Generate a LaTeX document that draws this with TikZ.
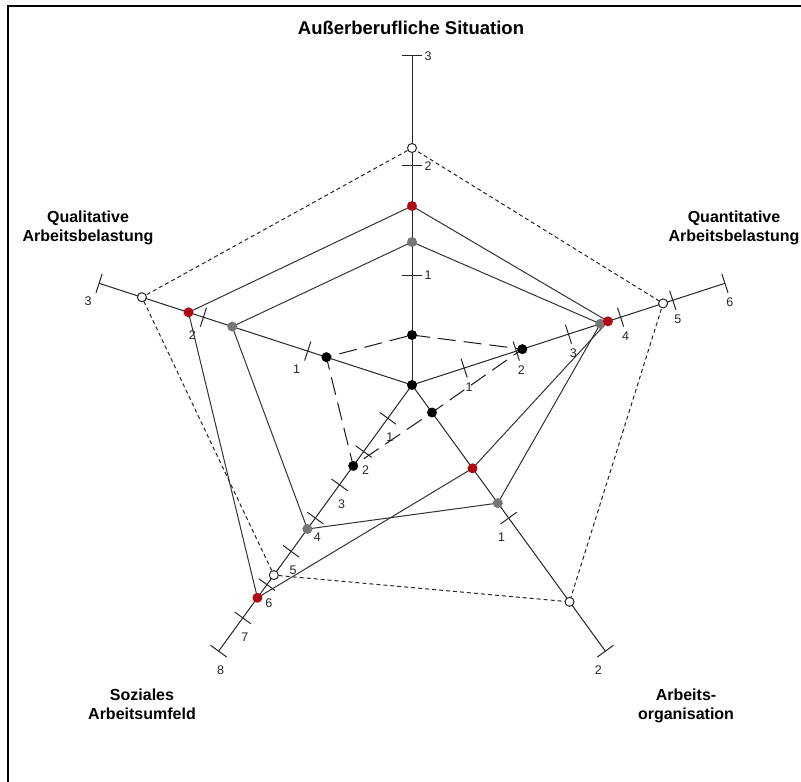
\documentclass[tikz,border=0pt]{standalone}
\usepackage{fontspec}
\setmainfont{Liberation Sans}
\usetikzlibrary{calc}
\definecolor{dotred}{RGB}{175,10,20}
\definecolor{dotgray}{RGB}{118,118,118}
\begin{document}
\begin{tikzpicture}[x=1pt,y=1pt,
  frameline/.style={line width=1.5pt, black},
  axisline/.style={line width=1pt, black!85},
  tickmark/.style={line width=1pt, black!85},
  ticklabel/.style={font=\fontsize{12.5}{14}\selectfont, text=black!85, inner sep=0pt},
  catlabel/.style={font=\fontsize{16}{19.5}\selectfont\bfseries, align=center, inner sep=0pt},
  titlelabel/.style={font=\fontsize{18.5}{20}\selectfont\bfseries, inner sep=0pt},
  polyline/.style={line width=1pt, black!80},
  maxline/.style={line width=1pt, black!85, dash pattern=on 4pt off 3pt},
  blackline/.style={line width=1pt, black!90, dash pattern=on 18pt off 8pt},
  reddot/.style={circle, fill=dotred, inner sep=0pt, minimum size=10pt},
  graydot/.style={circle, fill=dotgray, inner sep=0pt, minimum size=10pt},
  blackdot/.style={circle, fill=black, inner sep=0pt, minimum size=10pt},
  opendot/.style={circle, draw=black!85, line width=1pt, fill=white, inner sep=0pt, minimum size=9pt}
]
\useasboundingbox (0,0) rectangle (801,782);
\fill[white] (0,0) rectangle (801,782);
\draw[frameline] (8,0) -- (8,776) -- (801,776);

\coordinate (C) at (412,397);

% axes, ticks, tick labels
\foreach \nm/\ang/\mx/\dx/\dy in {T/90/3/16/0, R/18/6/5/-19, BR/-54/2/-7/-19, BL/-126/8/2/-19, L/162/3/-11/-18}{
  \coordinate (\nm end) at ($(C)+(\ang:329)$);
  \draw[axisline] (C) -- (\nm end);
  \foreach \k in {1,...,\mx}{
    \coordinate (\nm\k) at ($(C)+(\ang:{\k*329/\mx})$);
    \draw[tickmark] ($(\nm\k)+({\ang+90}:10)$) -- ($(\nm\k)+({\ang-90}:10)$);
    \node[ticklabel] (\nm lab\k) at ($(\nm\k)+(\dx,\dy)$) {\k};
  }
}

% data points (radii in px)
\coordinate (mT)  at ($(C)+(90:237)$);
\coordinate (mR)  at ($(C)+(18:264)$);
\coordinate (mBR) at ($(C)+(-54:268)$);
\coordinate (mBL) at ($(C)+(-126:235)$);
\coordinate (mL)  at ($(C)+(162:284)$);

\coordinate (rT)  at ($(C)+(90:179)$);
\coordinate (rR)  at ($(C)+(18:206)$);
\coordinate (rBR) at ($(C)+(-54:103)$);
\coordinate (rBL) at ($(C)+(-126:263)$);
\coordinate (rL)  at ($(C)+(162:235)$);

\coordinate (gT)  at ($(C)+(90:143)$);
\coordinate (gR)  at ($(C)+(18:198)$);
\coordinate (gBR) at ($(C)+(-54:146)$);
\coordinate (gBL) at ($(C)+(-126:178)$);
\coordinate (gL)  at ($(C)+(162:189)$);

\coordinate (kT)  at ($(C)+(90:50)$);
\coordinate (kR)  at ($(C)+(18:116)$);
\coordinate (kBR) at ($(C)+(-54:34)$);
\coordinate (kBL) at ($(C)+(-126:100)$);
\coordinate (kL)  at ($(C)+(162:90)$);

% polygons
\draw[maxline] (mT) -- (mR) -- (mBR) -- (mBL) -- (mL) -- cycle;
\draw[polyline] (rT) -- (rR) -- (rBR) -- (rBL) -- (rL) -- cycle;
\draw[polyline] (gT) -- (gR) -- (gBR) -- (gBL) -- (gL) -- cycle;
\draw[blackline] (kT) -- (kR) -- (kBR) -- (kBL) -- (kL) -- cycle;

% markers
\foreach \p in {mT,mR,mBR,mBL,mL}{ \node[opendot] (\p dot) at (\p) {}; }
\foreach \p in {gT,gR,gBR,gBL,gL}{ \node[graydot] (\p dot) at (\p) {}; }
\foreach \p in {rT,rR,rBR,rBL,rL}{ \node[reddot] (\p dot) at (\p) {}; }
\foreach \p in {kT,kR,kBR,kBL,kL,C}{ \node[blackdot] (\p dot) at (\p) {}; }

% category labels
\node[titlelabel, anchor=base] (title) at (411,747) {Außerberufliche Situation};
\node[catlabel] (quant) at (734,554) {Quantitative\\Arbeitsbelastung};
\node[catlabel] (qual) at (88,554) {Qualitative\\Arbeitsbelastung};
\node[catlabel] (soz) at (142,77.5) {Soziales\\Arbeitsumfeld};
\node[catlabel] (org) at (686,76) {Arbeits-\\organisation};
\end{tikzpicture}
\end{document}
